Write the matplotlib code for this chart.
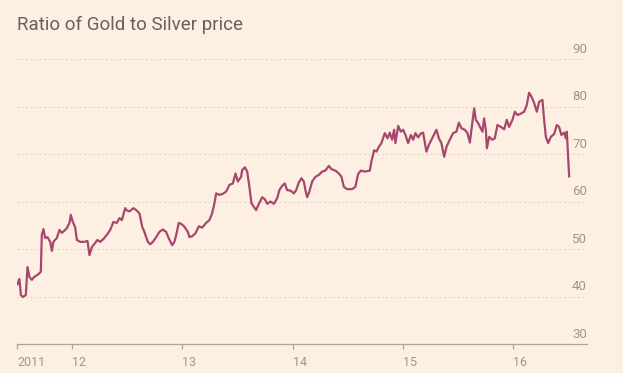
import matplotlib
matplotlib.use("Agg")
import matplotlib.pyplot as plt

# decimal year, ratio of gold price to silver price
years = [
    2011.504, 2011.522, 2011.535, 2011.553, 2011.580, 2011.595, 2011.613, 2011.635,
    2011.655, 2011.694, 2011.716, 2011.725, 2011.740, 2011.755, 2011.776, 2011.801,
    2011.816, 2011.830, 2011.861, 2011.885, 2011.907, 2011.927, 2011.952, 2011.976,
    2011.988, 2012.006, 2012.027, 2012.043, 2012.073, 2012.109, 2012.139, 2012.157,
    2012.179, 2012.209, 2012.229, 2012.254, 2012.284, 2012.315, 2012.345, 2012.374,
    2012.405, 2012.429, 2012.451, 2012.481, 2012.490, 2012.519, 2012.556, 2012.580,
    2012.610, 2012.635, 2012.655, 2012.686, 2012.707, 2012.732, 2012.762, 2012.791,
    2012.822, 2012.852, 2012.877, 2012.907, 2012.927, 2012.943, 2012.967, 2012.988,
    2013.018, 2013.049, 2013.063, 2013.088, 2013.118, 2013.149, 2013.179, 2013.215,
    2013.245, 2013.269, 2013.290, 2013.306, 2013.335, 2013.366, 2013.396, 2013.426,
    2013.457, 2013.481, 2013.502, 2013.532, 2013.541, 2013.566, 2013.587, 2013.607,
    2013.626, 2013.647, 2013.668, 2013.693, 2013.723, 2013.747, 2013.768, 2013.798,
    2013.829, 2013.859, 2013.879, 2013.904, 2013.928, 2013.949, 2013.979, 2014.010,
    2014.031, 2014.055, 2014.079, 2014.101, 2014.115, 2014.131, 2014.151, 2014.176,
    2014.206, 2014.237, 2014.267, 2014.296, 2014.327, 2014.351, 2014.387, 2014.418,
    2014.442, 2014.463, 2014.493, 2014.539, 2014.568, 2014.593, 2014.618, 2014.654,
    2014.699, 2014.713, 2014.738, 2014.759, 2014.781, 2014.804, 2014.835, 2014.859,
    2014.880, 2014.901, 2014.919, 2014.931, 2014.956, 2014.980, 2015.001, 2015.022,
    2015.046, 2015.071, 2015.092, 2015.112, 2015.137, 2015.161, 2015.182, 2015.212,
    2015.234, 2015.264, 2015.303, 2015.325, 2015.348, 2015.373, 2015.394, 2015.424,
    2015.454, 2015.484, 2015.506, 2015.530, 2015.560, 2015.584, 2015.606, 2015.620,
    2015.645, 2015.660, 2015.681, 2015.705, 2015.720, 2015.735, 2015.751, 2015.760,
    2015.781, 2015.810, 2015.832, 2015.856, 2015.887, 2015.917, 2015.941, 2015.962,
    2015.992, 2016.014, 2016.037, 2016.068, 2016.098, 2016.122, 2016.143, 2016.164,
    2016.189, 2016.213, 2016.234, 2016.264, 2016.279, 2016.295, 2016.316, 2016.340,
    2016.370, 2016.394, 2016.415, 2016.436, 2016.460, 2016.476, 2016.485, 2016.497,
    2016.506,
]
ratio = [
    42.6, 43.7, 40.3, 39.9, 40.3, 46.2, 44.1, 43.5,
    44.1, 44.7, 45.2, 53.0, 54.2, 52.3, 52.5, 51.5,
    49.6, 51.5, 52.3, 54.0, 53.4, 53.8, 54.4, 55.5,
    57.2, 55.7, 54.6, 51.9, 51.5, 51.5, 51.7, 48.7,
    50.4, 51.3, 51.9, 51.5, 52.1, 53.0, 54.0, 55.7,
    55.5, 56.5, 56.1, 58.6, 58.2, 57.9, 58.6, 58.2,
    57.5, 54.7, 53.6, 51.5, 51.0, 51.5, 52.5, 53.6,
    54.1, 53.6, 52.2, 50.8, 51.5, 52.9, 55.5, 55.3,
    54.7, 53.6, 52.5, 52.7, 53.3, 54.8, 54.5, 55.5,
    56.1, 57.5, 59.6, 61.7, 61.4, 61.6, 62.1, 63.5,
    63.8, 65.9, 64.2, 65.2, 66.6, 67.2, 66.3, 63.1,
    59.6, 58.9, 58.2, 59.5, 60.9, 60.5, 59.5, 60.0,
    59.5, 60.7, 62.4, 63.3, 63.8, 62.4, 62.3, 61.7,
    62.4, 64.0, 64.9, 64.2, 62.4, 60.9, 62.1, 64.2,
    65.2, 65.6, 66.3, 66.5, 67.5, 66.8, 66.5, 65.9,
    65.2, 63.1, 62.6, 62.6, 63.1, 65.8, 66.5, 66.3,
    66.5, 68.4, 70.8, 70.5, 71.5, 72.3, 74.4, 73.3,
    74.5, 73.0, 75.1, 72.3, 75.9, 74.7, 75.1, 74.0,
    72.3, 74.0, 73.0, 74.4, 73.5, 74.3, 74.5, 70.5,
    71.9, 73.3, 75.1, 73.3, 72.3, 69.4, 71.5, 73.0,
    74.4, 74.7, 76.6, 75.4, 75.1, 74.4, 72.4, 75.1,
    79.6, 77.2, 76.5, 75.4, 74.7, 77.5, 75.1, 71.2,
    73.6, 73.0, 73.3, 76.1, 75.7, 75.2, 77.2, 75.7,
    77.2, 78.9, 78.2, 78.5, 78.9, 80.3, 82.9, 82.1,
    80.7, 78.9, 81.0, 81.4, 77.2, 73.6, 72.3, 73.6,
    74.2, 76.1, 75.7, 74.0, 74.5, 73.3, 74.7, 69.4,
    65.3,
]

x_ticks = [2011.5, 2012, 2013, 2014, 2015, 2016]
x_labels = ["2011", "12", "13", "14", "15", "16"]
y_ticks = [30, 40, 50, 60, 70, 80, 90]

bg = "#fdf0e2"
line_col = "#a8476e"
txt_col = "#9b9790"

plt.rcParams['font.family'] = ['Roboto', 'DejaVu Sans']

fig = plt.figure(figsize=(6.23, 3.73), dpi=100, facecolor=bg)
ax = fig.add_axes([17 / 623, 29 / 373, 570 / 623, 285 / 373], facecolor=bg)

ax.plot(years, ratio, color=line_col, lw=1.6, solid_joinstyle="round")

ax.set_xlim(2011.5, 2016.668)
ax.set_ylim(30, 90)

for v in y_ticks[1:]:
    ax.axhline(v, color="#d9d0c6", lw=0.8, ls=(0, (1.5, 2.5)), zorder=0)
for v in y_ticks:
    ax.annotate(str(v), xy=(1, v), xycoords=("axes fraction", "data"),
                xytext=(0, 2.5), textcoords="offset points",
                ha="right", va="bottom", fontsize=9.5, color=txt_col,
                annotation_clip=False)

for s in ["top", "right", "left"]:
    ax.spines[s].set_visible(False)
ax.spines["bottom"].set_color("#aaa49c")
ax.spines["bottom"].set_linewidth(0.9)

ax.set_yticks([])
ax.set_xticks(x_ticks)
ax.set_xticklabels(x_labels, ha="left")
ax.tick_params(axis="x", length=3.5, width=0.9, color="#aaa49c",
               labelsize=9, labelcolor=txt_col, pad=5)

fig.text(17 / 623, 1 - 30 / 373, "Ratio of Gold to Silver price",
         fontsize=13.5, color="#66625d", va="baseline", ha="left")

fig.savefig("out.png", dpi=100, facecolor=bg)
